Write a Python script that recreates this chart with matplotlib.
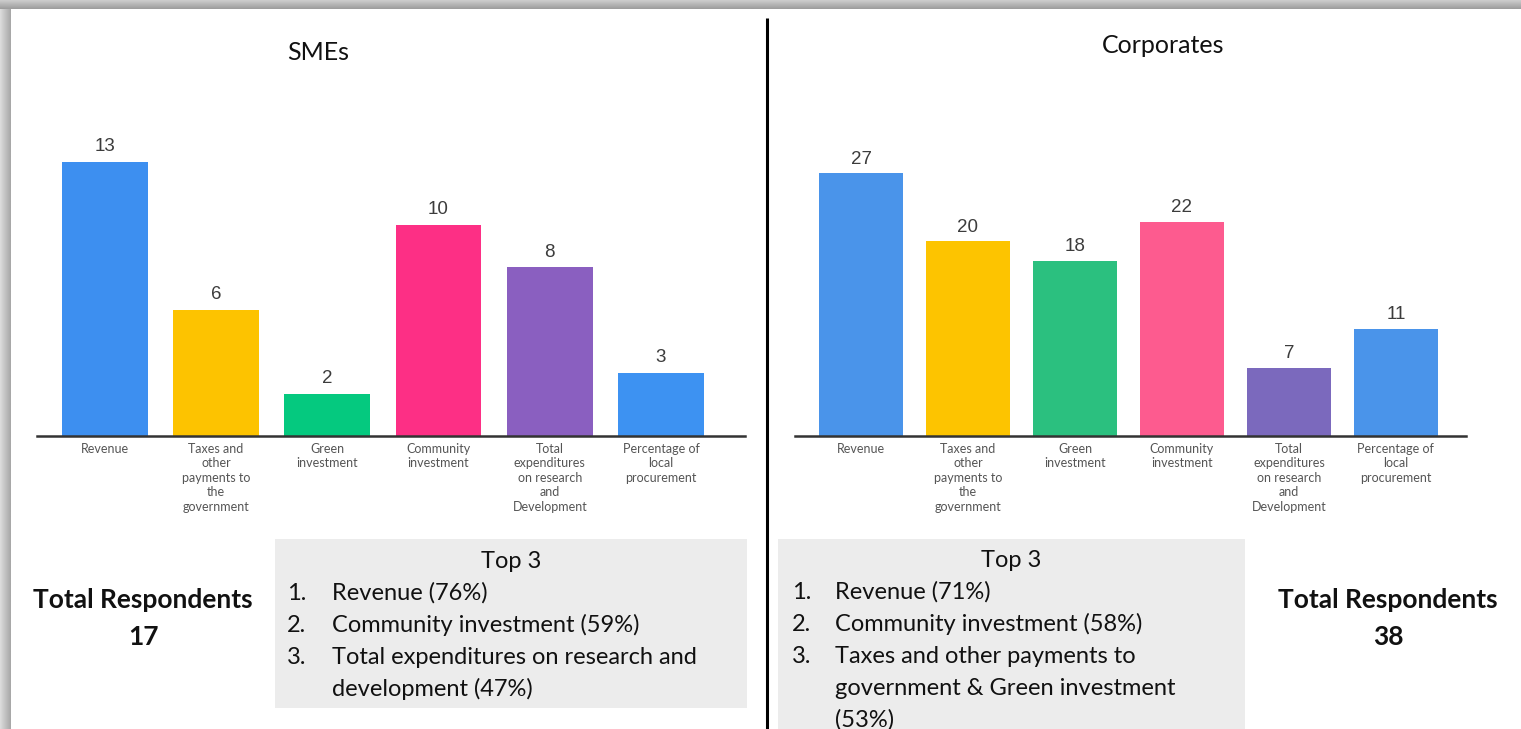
import numpy as np
import matplotlib
matplotlib.use("Agg")
import matplotlib.pyplot as plt
from matplotlib.patches import Rectangle

W, H = 1521, 729
DPI = 100

categories = [
    "Revenue",
    "Taxes and\nother\npayments to\nthe\ngovernment",
    "Green\ninvestment",
    "Community\ninvestment",
    "Total\nexpenditures\non research\nand\nDevelopment",
    "Percentage of\nlocal\nprocurement",
]
sme_counts = [13, 6, 2, 10, 8, 3]
corp_counts = [27, 20, 18, 22, 7, 11]

sme_colors = ["#3d8ff0", "#fdc300", "#05c97f", "#fd2f85", "#8a5fc0", "#3d92f2"]
corp_colors = ["#4a94ea", "#fdc400", "#2bc07f", "#fd5b8f", "#7b69bd", "#4a94ea"]

sme_total = 17
corp_total = 38

sme_top3 = [
    ("1.", ["Revenue (76%)"]),
    ("2.", ["Community investment (59%)"]),
    ("3.", ["Total expenditures on research and", "development (47%)"]),
]
corp_top3 = [
    ("1.", ["Revenue (71%)"]),
    ("2.", ["Community investment (58%)"]),
    ("3.", ["Taxes and other payments to", "government & Green investment", "(53%)"]),
]

BODY_FONT = ["Lato", "DejaVu Sans"]
TICK_FONT = ["Lato", "DejaVu Sans"]
VALUE_FONT = ["Liberation Sans", "DejaVu Sans"]

fig = plt.figure(figsize=(W / DPI, H / DPI), dpi=DPI)
fig.patch.set_facecolor("white")


def px_axes(left, top, right, bottom, **kw):
    # axes placed by pixel box (origin top-left)
    return fig.add_axes([left / W, 1 - bottom / H, (right - left) / W, (bottom - top) / H], **kw)


# background layer in pixel coordinates
bg = px_axes(0, 0, W, H, zorder=0)
bg.axis("off")

# drop-shadow frame along the top and left edges
top_grad = np.linspace(0.80, 0.62, 9).reshape(-1, 1)
bg.imshow(np.repeat(top_grad, 2, axis=1), cmap="gray", vmin=0, vmax=1,
          extent=(0, W, 9, 0), aspect="auto", interpolation="bilinear")
left_grad = np.linspace(0.86, 0.66, 11).reshape(1, -1)
bg.imshow(np.repeat(left_grad, 2, axis=0), cmap="gray", vmin=0, vmax=1,
          extent=(0, 11, H, 9), aspect="auto", interpolation="bilinear")
bg.set_xlim(0, W)
bg.set_ylim(H, 0)

# divider between the two panels
bg.plot([767, 767], [18, H], color="black", lw=2.2, solid_capstyle="butt")

# summary boxes
bg.add_patch(Rectangle((275, 539), 472, 169, facecolor="#ececec", edgecolor="none"))
bg.add_patch(Rectangle((778, 539), 467, 195, facecolor="#ececec", edgecolor="none"))

# panel titles
bg.text(318, 52, "SMEs", ha="center", va="center", fontsize=18, family=BODY_FONT, color="#111111")
bg.text(1163, 45, "Corporates", ha="center", va="center", fontsize=18, family=BODY_FONT, color="#111111")

# respondent totals
for cx, total in [(143, sme_total), (1388, corp_total)]:
    bg.text(cx, 608, "Total Respondents", ha="center", va="baseline", fontsize=19,
            fontweight="bold", family=BODY_FONT, color="#111111")
    bg.text(cx, 645, str(total), ha="center", va="baseline", fontsize=19,
            fontweight="bold", family=BODY_FONT, color="#111111")


def draw_top3(box_cx, num_x, text_x, y0, items):
    bg.text(box_cx, y0, "Top 3", ha="center", va="baseline", fontsize=17,
            family=BODY_FONT, color="#111111")
    y = y0
    for num, lines in items:
        for j, line in enumerate(lines):
            y += 32
            if j == 0:
                bg.text(num_x, y, num, ha="left", va="baseline", fontsize=17,
                        family=BODY_FONT, color="#111111")
            bg.text(text_x, y, line, ha="left", va="baseline", fontsize=17,
                    family=BODY_FONT, color="#111111")


draw_top3(511, 287, 332, 568, sme_top3)
draw_top3(1011, 792, 835, 567, corp_top3)


def draw_bars(ax, counts, colors, width, ymax, pad):
    x = np.arange(len(counts))
    bars = ax.bar(x, counts, width=width, color=colors, zorder=2)
    ax.bar_label(bars, labels=[str(c) for c in counts], padding=pad, fontsize=13.5,
                 color="#3c3c3c", family=VALUE_FONT)
    ax.set_ylim(0, ymax)
    ax.set_xticks(x)
    ax.set_xticklabels(categories, fontsize=9, color="#555555", family=TICK_FONT,
                       linespacing=1.25, va="top")
    ax.tick_params(axis="x", length=0, pad=5)
    ax.tick_params(axis="y", left=False, labelleft=False)
    for side in ["top", "right", "left"]:
        ax.spines[side].set_visible(False)
    ax.spines["bottom"].set_color("#333333")
    ax.spines["bottom"].set_linewidth(1.8)
    ax.patch.set_alpha(0)


ax1 = px_axes(37, 120, 745, 436, zorder=1)
ax1.set_xlim(-0.61, 5.755)
draw_bars(ax1, sme_counts, sme_colors, 0.77, 15, 5)

ax2 = px_axes(795, 144, 1466, 436, zorder=1)
ax2.set_xlim(-0.617, 5.655)
draw_bars(ax2, corp_counts, corp_colors, 0.78, 30, 4)

fig.savefig("out.png", dpi=DPI)
